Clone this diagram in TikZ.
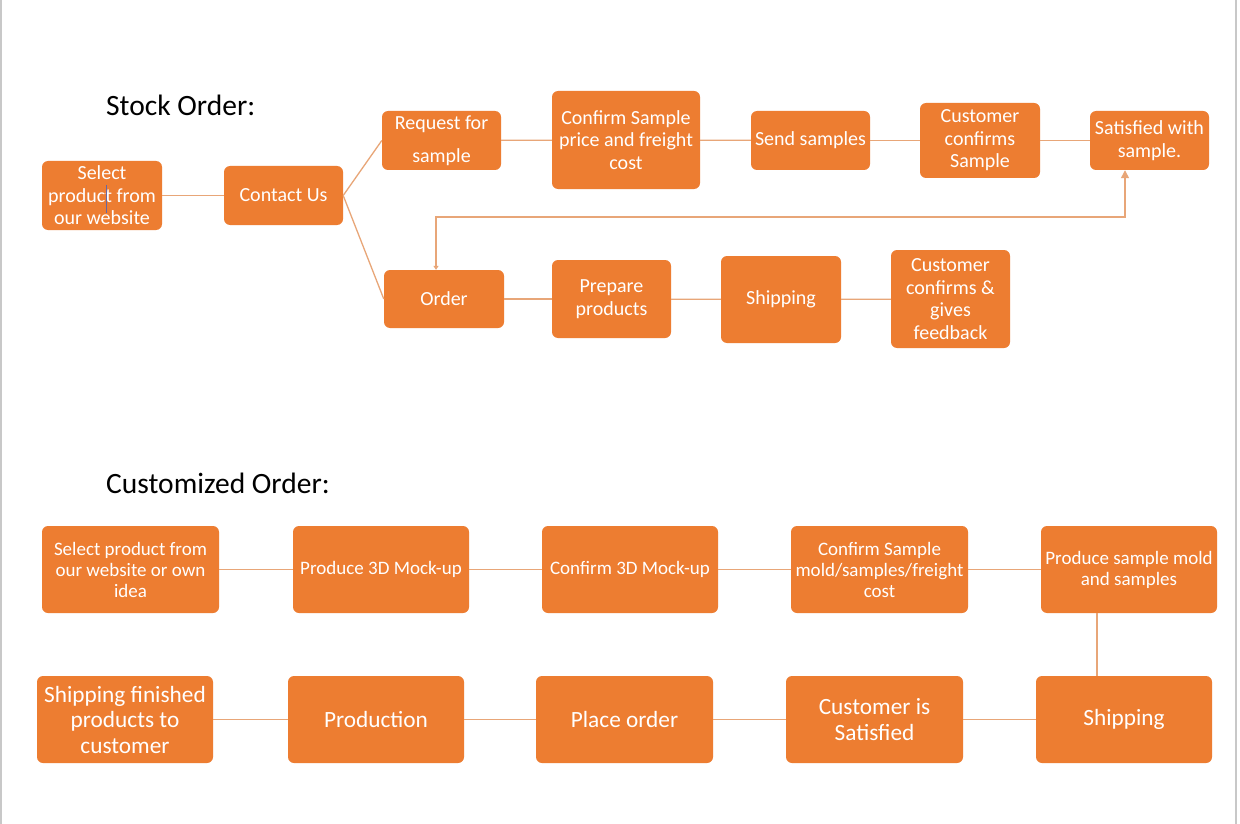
\documentclass[tikz,border=0pt]{standalone}
\usepackage{fontspec}
\setmainfont{Carlito}
\usetikzlibrary{arrows.meta}
\definecolor{orng}{HTML}{ED7D31}
\definecolor{lnk}{HTML}{E8A678}
\definecolor{frame}{HTML}{C8C8C8}
\tikzset{
  box/.style={fill=orng, rounded corners=6pt, text=white, align=center, inner sep=0pt},
  topfont/.style={font=\fontsize{20}{22.5}\selectfont},
  rowafont/.style={font=\fontsize{19}{21}\selectfont},
  rowbfont/.style={font=\fontsize{23.3}{25.5}\selectfont},
  conn/.style={draw=lnk, line width=1.3pt},
  title/.style={anchor=base west, font=\fontsize{29.5}{30}\selectfont, inner sep=0pt}
}
\begin{document}
\begin{tikzpicture}[x=1pt,y=-1pt]
\useasboundingbox[fill=white] (0,0) rectangle (1240,824);
\draw[frame, line width=1.2pt] (1,0) -- (1,824);
\draw[frame, line width=1.2pt] (1236,0) -- (1236,824);

\node[title] (t1) at (106,116) {Stock Order:};
\node[title] (t2) at (106,493) {Customized Order:};

% Stock order
\node[box, topfont, minimum width=120pt, minimum height=69pt] (sel1) at (102,195.5) {Select\\product from\\our website};
\node[box, topfont, minimum width=119pt, minimum height=59pt] (contact) at (283.5,195.5) {Contact Us};
\node[box, minimum width=119pt, minimum height=59pt, font=\fontsize{20}{33}\selectfont] (req) at (441.5,140.5) {Request for\\sample};
\node[box, topfont, minimum width=148pt, minimum height=98pt] (confirm) at (626,140) {Confirm Sample\\price and freight\\cost};
\node[box, topfont, minimum width=119pt, minimum height=59pt] (send) at (810.5,140.5) {Send samples};
\node[box, topfont, minimum width=120pt, minimum height=75pt] (custconf) at (980,140.5) {Customer\\confirms\\Sample};
\node[box, topfont, minimum width=119pt, minimum height=59pt] (satisfied) at (1149.5,140.5) {Satisfied with\\sample.};
\node[box, topfont, minimum width=120pt, minimum height=58pt] (order) at (444,299) {Order};
\node[box, topfont, minimum width=119pt, minimum height=78pt] (prepare) at (611.5,299) {Prepare\\products};
\node[box, topfont, minimum width=120pt, minimum height=87pt] (ship1) at (781,299.5) {Shipping};
\node[box, topfont, minimum width=119pt, minimum height=98pt] (feed) at (950.5,299) {Customer\\confirms \&\\gives\\feedback};

\draw[line width=0.8pt, black!60!blue!60] (106,185) -- (106,213);

\draw[conn] (sel1) -- (contact);
\draw[conn] (contact.east) -- (req.west);
\draw[conn] (contact.east) -- (order.west);
\draw[conn] (req) -- (confirm);
\draw[conn] (confirm) -- (send);
\draw[conn] (send) -- (custconf);
\draw[conn] (custconf) -- (satisfied);
\draw[conn] (order) -- (prepare);
\draw[conn] (prepare) -- (ship1);
\draw[conn] (ship1) -- (feed);

\coordinate (fbA) at (436,217);
\coordinate (fbB) at (1125,217);
\draw[conn, {Triangle[length=4pt,width=5pt]}-{Triangle[length=8pt,width=8pt]}] (order.north -| fbA) -- (fbA) -- (fbB) -- (satisfied.south -| fbB);

% Customized order
\node[box, rowafont, minimum width=177pt, minimum height=87pt] (b1) at (130.5,569.5) {Select product from\\our website or own\\idea};
\node[box, rowafont, minimum width=176pt, minimum height=87pt] (b2) at (381,569.5) {Produce 3D Mock-up};
\node[box, rowafont, minimum width=176pt, minimum height=87pt] (b3) at (630,569.5) {Confirm 3D Mock-up};
\node[box, rowafont, minimum width=177pt, minimum height=87pt] (b4) at (879.5,569.5) {Confirm Sample\\mold/samples/freight\\cost};
\node[box, rowafont, minimum width=176pt, minimum height=87pt] (b5) at (1129,569.5) {Produce sample mold\\and samples};

\node[box, rowbfont, minimum width=176pt, minimum height=87pt] (c1) at (125,719.5) {Shipping finished\\products to\\customer};
\node[box, rowbfont, minimum width=176pt, minimum height=87pt] (c2) at (376,719.5) {Production};
\node[box, rowbfont, minimum width=177pt, minimum height=87pt] (c3) at (624.5,719.5) {Place order};
\node[box, rowbfont, minimum width=177pt, minimum height=87pt] (c4) at (874.5,719.5) {Customer is\\Satisfied};
\node[box, rowbfont, minimum width=176pt, minimum height=87pt] (c5) at (1124,719.5) {Shipping};

\draw[conn] (b1) -- (b2);
\draw[conn] (b2) -- (b3);
\draw[conn] (b3) -- (b4);
\draw[conn] (b4) -- (b5);
\coordinate (vx) at (1097,0);
\draw[conn] (b5.south -| vx) -- (c5.north -| vx);
\draw[conn] (c5) -- (c4);
\draw[conn] (c4) -- (c3);
\draw[conn] (c3) -- (c2);
\draw[conn] (c2) -- (c1);
\end{tikzpicture}
\end{document}
